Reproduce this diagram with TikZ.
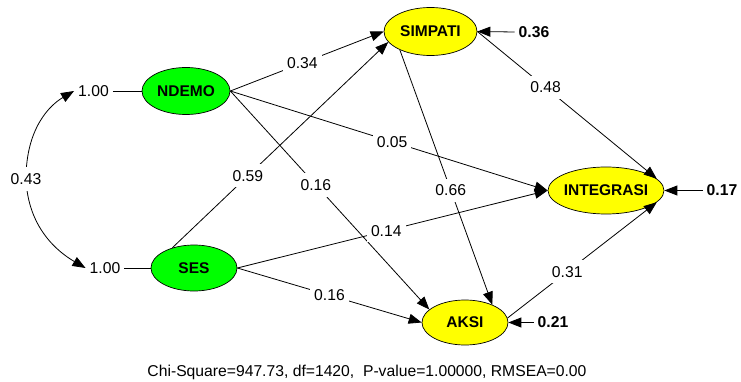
\documentclass[tikz,border=0pt]{standalone}
\usepackage{fontspec}
\setmainfont{Liberation Sans}
\usetikzlibrary{shapes.geometric,arrows.meta}
\definecolor{lgreen}{RGB}{0,255,0}
\definecolor{lyellow}{RGB}{255,255,0}
\tikzset{
  ell/.style={ellipse,draw=black,line width=0.7pt,inner sep=0pt,font=\fontsize{15.5}{18}\selectfont\bfseries},
  exo/.style={ell,fill=lgreen},
  endo/.style={ell,fill=lyellow},
  lbl/.style={fill=white,inner xsep=4pt,inner ysep=6pt,font=\fontsize{15.7}{18}\selectfont},
  blbl/.style={lbl,font=\fontsize{15.7}{18}\selectfont\bfseries},
  conn/.style={line width=0.8pt,-{Triangle[length=13pt,width=10pt]}},
  plain/.style={line width=0.8pt},
  dbl/.style={line width=0.8pt,{Triangle[length=13pt,width=10pt]}-{Triangle[length=13pt,width=10pt]}}
}
\begin{document}
\begin{tikzpicture}[x=1pt,y=-1pt]
\useasboundingbox (0,0) rectangle (741,382);
% latent variables
\node[exo,minimum width=88pt,minimum height=47pt] (ndemo) at (186,91) {NDEMO};
\node[exo,minimum width=86pt,minimum height=46pt] (ses) at (194,268) {SES};
\node[endo,minimum width=93pt,minimum height=48pt] (simpati) at (430.5,31.5) {SIMPATI};
\node[endo,minimum width=116pt,minimum height=47pt,inner xsep=-2pt] (integrasi) at (606,190.5) {INTEGRASI};
\node[endo,minimum width=86pt,minimum height=45pt] (aksi) at (465,322.5) {AKSI};
% variances of exogenous
\node[lbl] (v1) at (93.5,91) {1.00};
\node[lbl] (v2) at (105,268) {1.00};
\draw[plain] (v1.east) -- (ndemo.west);
\draw[plain] (v2.east) -- (ses.west);
\draw[dbl] (v1.west) .. controls (50,105) and (26,128) .. (26,179) node[lbl]{0.43}
  .. controls (28,228) and (58,252) .. (v2.west);
% error variances
\node[blbl] (e1) at (534,32) {0.36};
\node[blbl] (e2) at (722,190.5) {0.17};
\node[blbl] (e3) at (553,322.5) {0.21};
\draw[conn] (e1.west) -- (simpati.east);
\draw[conn] (e2.west) -- (integrasi.east);
\draw[conn] (e3.west) -- (aksi.east);
% paths
\draw[conn] (ndemo.east) -- (simpati.west) node[lbl,pos=0.47]{0.34};
\draw[conn] (ses.137) -- (simpati.194) node[lbl,pos=0.35]{0.59};
\draw[conn] (ndemo.east) -- (integrasi.west) node[lbl,pos=0.51]{0.05};
\draw[conn] (ndemo.east) -- (aksi.160) node[lbl,pos=0.43]{0.16};
\draw[conn] (ses.east) -- (integrasi.west) node[lbl,pos=0.48]{0.14};
\draw[conn] (ses.east) -- (aksi.west) node[lbl,pos=0.5]{0.16};
\draw[conn] (simpati.east) -- (integrasi.13) node[lbl,pos=0.38]{0.48};
\draw[conn] (simpati.211) -- (aksi.33) node[lbl,pos=0.55]{0.66};
\draw[conn] (aksi.6) -- (integrasi.347) node[lbl,pos=0.4]{0.31};
% fit statistics
\node[font=\fontsize{15.7}{18}\selectfont] (fit) at (367,372) {Chi-Square=947.73, df=1420,\ \ P-value=1.00000, RMSEA=0.00};
\end{tikzpicture}
\end{document}
